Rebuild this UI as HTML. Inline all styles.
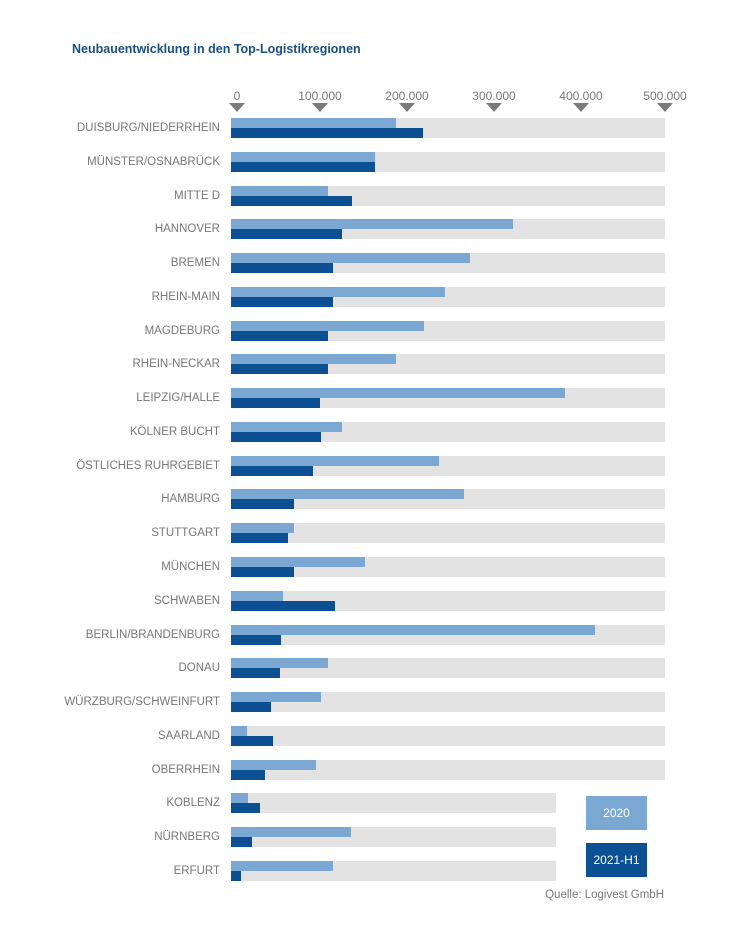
<!DOCTYPE html>
<html><head><meta charset="utf-8"><style>
body{margin:0;background:#fff;width:743px;height:948px;overflow:hidden;position:relative;font-family:"Liberation Sans",sans-serif}
.t{position:absolute;left:72px;top:42px;font-size:12.5px;font-weight:bold;color:#1a4f82}
.tk{position:absolute;top:89px;width:80px;margin-left:-40px;text-align:center;font-size:12px;color:#777}
.tri{position:absolute;top:103px;margin-left:-8px;width:0;height:0;border-left:8px solid transparent;border-right:8px solid transparent;border-top:9px solid #7a7a7a}
.bg{position:absolute;left:231px;height:20px;background:#e3e3e3}
.l{position:absolute;left:231px;height:10px;background:#7ba7d3}
.d{position:absolute;left:231px;height:10px;background:#0c4f92}
.lb{position:absolute;right:523px;font-size:11.5px;color:#777;white-space:nowrap;line-height:20px}
.lg{position:absolute;left:586px;width:61px;height:34px;color:#fff;font-size:12px;text-align:center;line-height:34px}
.src{position:absolute;right:79px;top:889px;font-size:11.5px;color:#777}
</style></head><body>
<div class="t">Neubauentwicklung in den Top-Logistikregionen</div>
<div id="c"></div>
<div class="lg" style="top:796px;background:#7ba7d3">2020</div>
<div class="lg" style="top:843px;background:#0c4f92">2021-H1</div>
<div class="src">Quelle: Logivest GmbH</div>
<script>
var h='';
[[237,'0'],[320,'100.000'],[407,'200.000'],[494,'300.000'],[581,'400.000'],[665,'500.000']].forEach(function(t){
h+='<div class="tk" style="left:'+t[0]+'px">'+t[1]+'</div><div class="tri" style="left:'+t[0]+'px"></div>';});
var d=[['DUISBURG/NIEDERRHEIN',396,423],['MÜNSTER/OSNABRÜCK',375,375],['MITTE D',328,352],['HANNOVER',513,342],['BREMEN',470,333],['RHEIN-MAIN',445,333],['MAGDEBURG',424,328],['RHEIN-NECKAR',396,328],['LEIPZIG/HALLE',565,320],['KÖLNER BUCHT',342,321],['ÖSTLICHES RUHRGEBIET',439,313],['HAMBURG',464,294],['STUTTGART',294,288],['MÜNCHEN',365,294],['SCHWABEN',283,335],['BERLIN/BRANDENBURG',595,281],['DONAU',328,280],['WÜRZBURG/SCHWEINFURT',321,271],['SAARLAND',247,273],['OBERRHEIN',316,265],['KOBLENZ',248,260],['NÜRNBERG',351,252],['ERFURT',333,241]];
d.forEach(function(r,i){var y=Math.round(118+i*33.77);var e=i>=20?556:665;
h+='<div class="bg" style="top:'+y+'px;width:'+(e-231)+'px"></div><div class="l" style="top:'+y+'px;width:'+(r[1]-231)+'px"></div><div class="d" style="top:'+(y+10)+'px;width:'+(r[2]-231)+'px"></div><div class="lb" style="top:'+y+'px">'+r[0]+'</div>';});
document.getElementById('c').innerHTML=h;
</script>
</body></html>
